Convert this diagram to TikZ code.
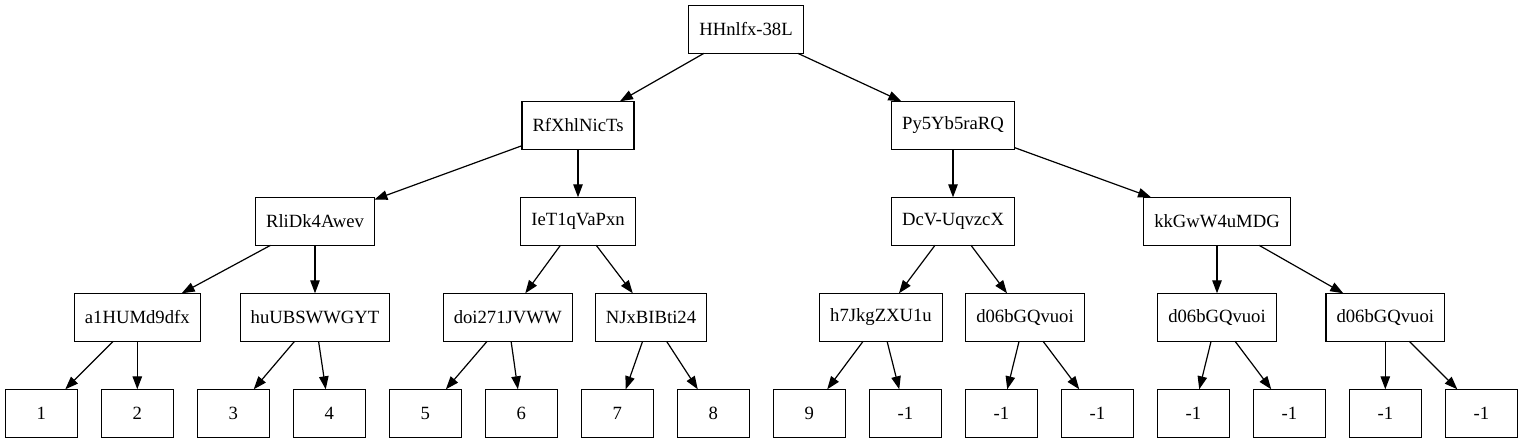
\documentclass[tikz,border=0pt]{standalone}
\usepackage{fontspec}
\setmainfont{Liberation Serif}
\usetikzlibrary{arrows.meta}

\begin{document}
\begin{tikzpicture}[x=1pt, y=-1pt, >={Triangle[length=13pt, width=9.5pt]},
  font=\fontsize{18.67}{22}\selectfont,
  blk/.style={draw, line width=1.2pt, minimum height=48pt, minimum width=72pt, inner xsep=10.5pt, inner ysep=0pt, outer sep=0pt},
  edge/.style={->, line width=1.2pt}]
\useasboundingbox (0,0) rectangle (1523,443);
% rank 0 and 1
\node[blk] (root) at (746,29.3) {HHnlfx-38L};
\node[blk] (rfx) at (578,125.3) {RfXhlNicTs};
\node[blk] (py5) at (953,125.3) {Py5Yb5raRQ};
% rank 2
\node[blk] (rli) at (315,221.3) {RliDk4Awev};
\node[blk] (iet) at (578,221.3) {IeT1qVaPxn};
\node[blk] (dcv) at (953,221.3) {DcV-UqvzcX};
\node[blk] (kkg) at (1217,221.3) {kkGwW4uMDG};
% rank 3
\node[blk] (a1h) at (137.3,317.3) {a1HUMd9dfx};
\node[blk] (huu) at (315,317.3) {huUBSWWGYT};
\node[blk] (doi) at (507.7,317.3) {doi271JVWW};
\node[blk] (njx) at (651,317.3) {NJxBIBti24};
\node[blk] (h7j) at (881,317.3) {h7JkgZXU1u};
\node[blk] (dfa) at (1025,317.3) {d06bGQvuoi};
\node[blk] (dfb) at (1217,317.3) {d06bGQvuoi};
\node[blk] (dfc) at (1385.3,317.3) {d06bGQvuoi};
% leaves
\node[blk] (l1) at (41.3,413.3) {1};
\node[blk] (l2) at (137.3,413.3) {2};
\node[blk] (l3) at (233.3,413.3) {3};
\node[blk] (l4) at (329.3,413.3) {4};
\node[blk] (l5) at (425.3,413.3) {5};
\node[blk] (l6) at (521.3,413.3) {6};
\node[blk] (l7) at (617.3,413.3) {7};
\node[blk] (l8) at (713.3,413.3) {8};
\node[blk] (l9) at (809.3,413.3) {9};
\node[blk] (l10) at (905.3,413.3) {-1};
\node[blk] (l11) at (1001.3,413.3) {-1};
\node[blk] (l12) at (1097.3,413.3) {-1};
\node[blk] (l13) at (1193.3,413.3) {-1};
\node[blk] (l14) at (1289.3,413.3) {-1};
\node[blk] (l15) at (1385.3,413.3) {-1};
\node[blk] (l16) at (1481.3,413.3) {-1};
% edges
\draw[edge] (root) -- (rfx);
\draw[edge] (root) -- (py5);
\draw[edge] (rfx) -- (rli);
\draw[edge] (rfx) -- (iet);
\draw[edge] (py5) -- (dcv);
\draw[edge] (py5) -- (kkg);
\draw[edge] (rli) -- (a1h);
\draw[edge] (rli) -- (huu);
\draw[edge] (iet) -- (doi);
\draw[edge] (iet) -- (njx);
\draw[edge] (dcv) -- (h7j);
\draw[edge] (dcv) -- (dfa);
\draw[edge] (kkg) -- (dfb);
\draw[edge] (kkg) -- (dfc);
\draw[edge] (a1h) -- (l1);
\draw[edge] (a1h) -- (l2);
\draw[edge] (huu) -- (l3);
\draw[edge] (huu) -- (l4);
\draw[edge] (doi) -- (l5);
\draw[edge] (doi) -- (l6);
\draw[edge] (njx) -- (l7);
\draw[edge] (njx) -- (l8);
\draw[edge] (h7j) -- (l9);
\draw[edge] (h7j) -- (l10);
\draw[edge] (dfa) -- (l11);
\draw[edge] (dfa) -- (l12);
\draw[edge] (dfb) -- (l13);
\draw[edge] (dfb) -- (l14);
\draw[edge] (dfc) -- (l15);
\draw[edge] (dfc) -- (l16);
\end{tikzpicture}
\end{document}
